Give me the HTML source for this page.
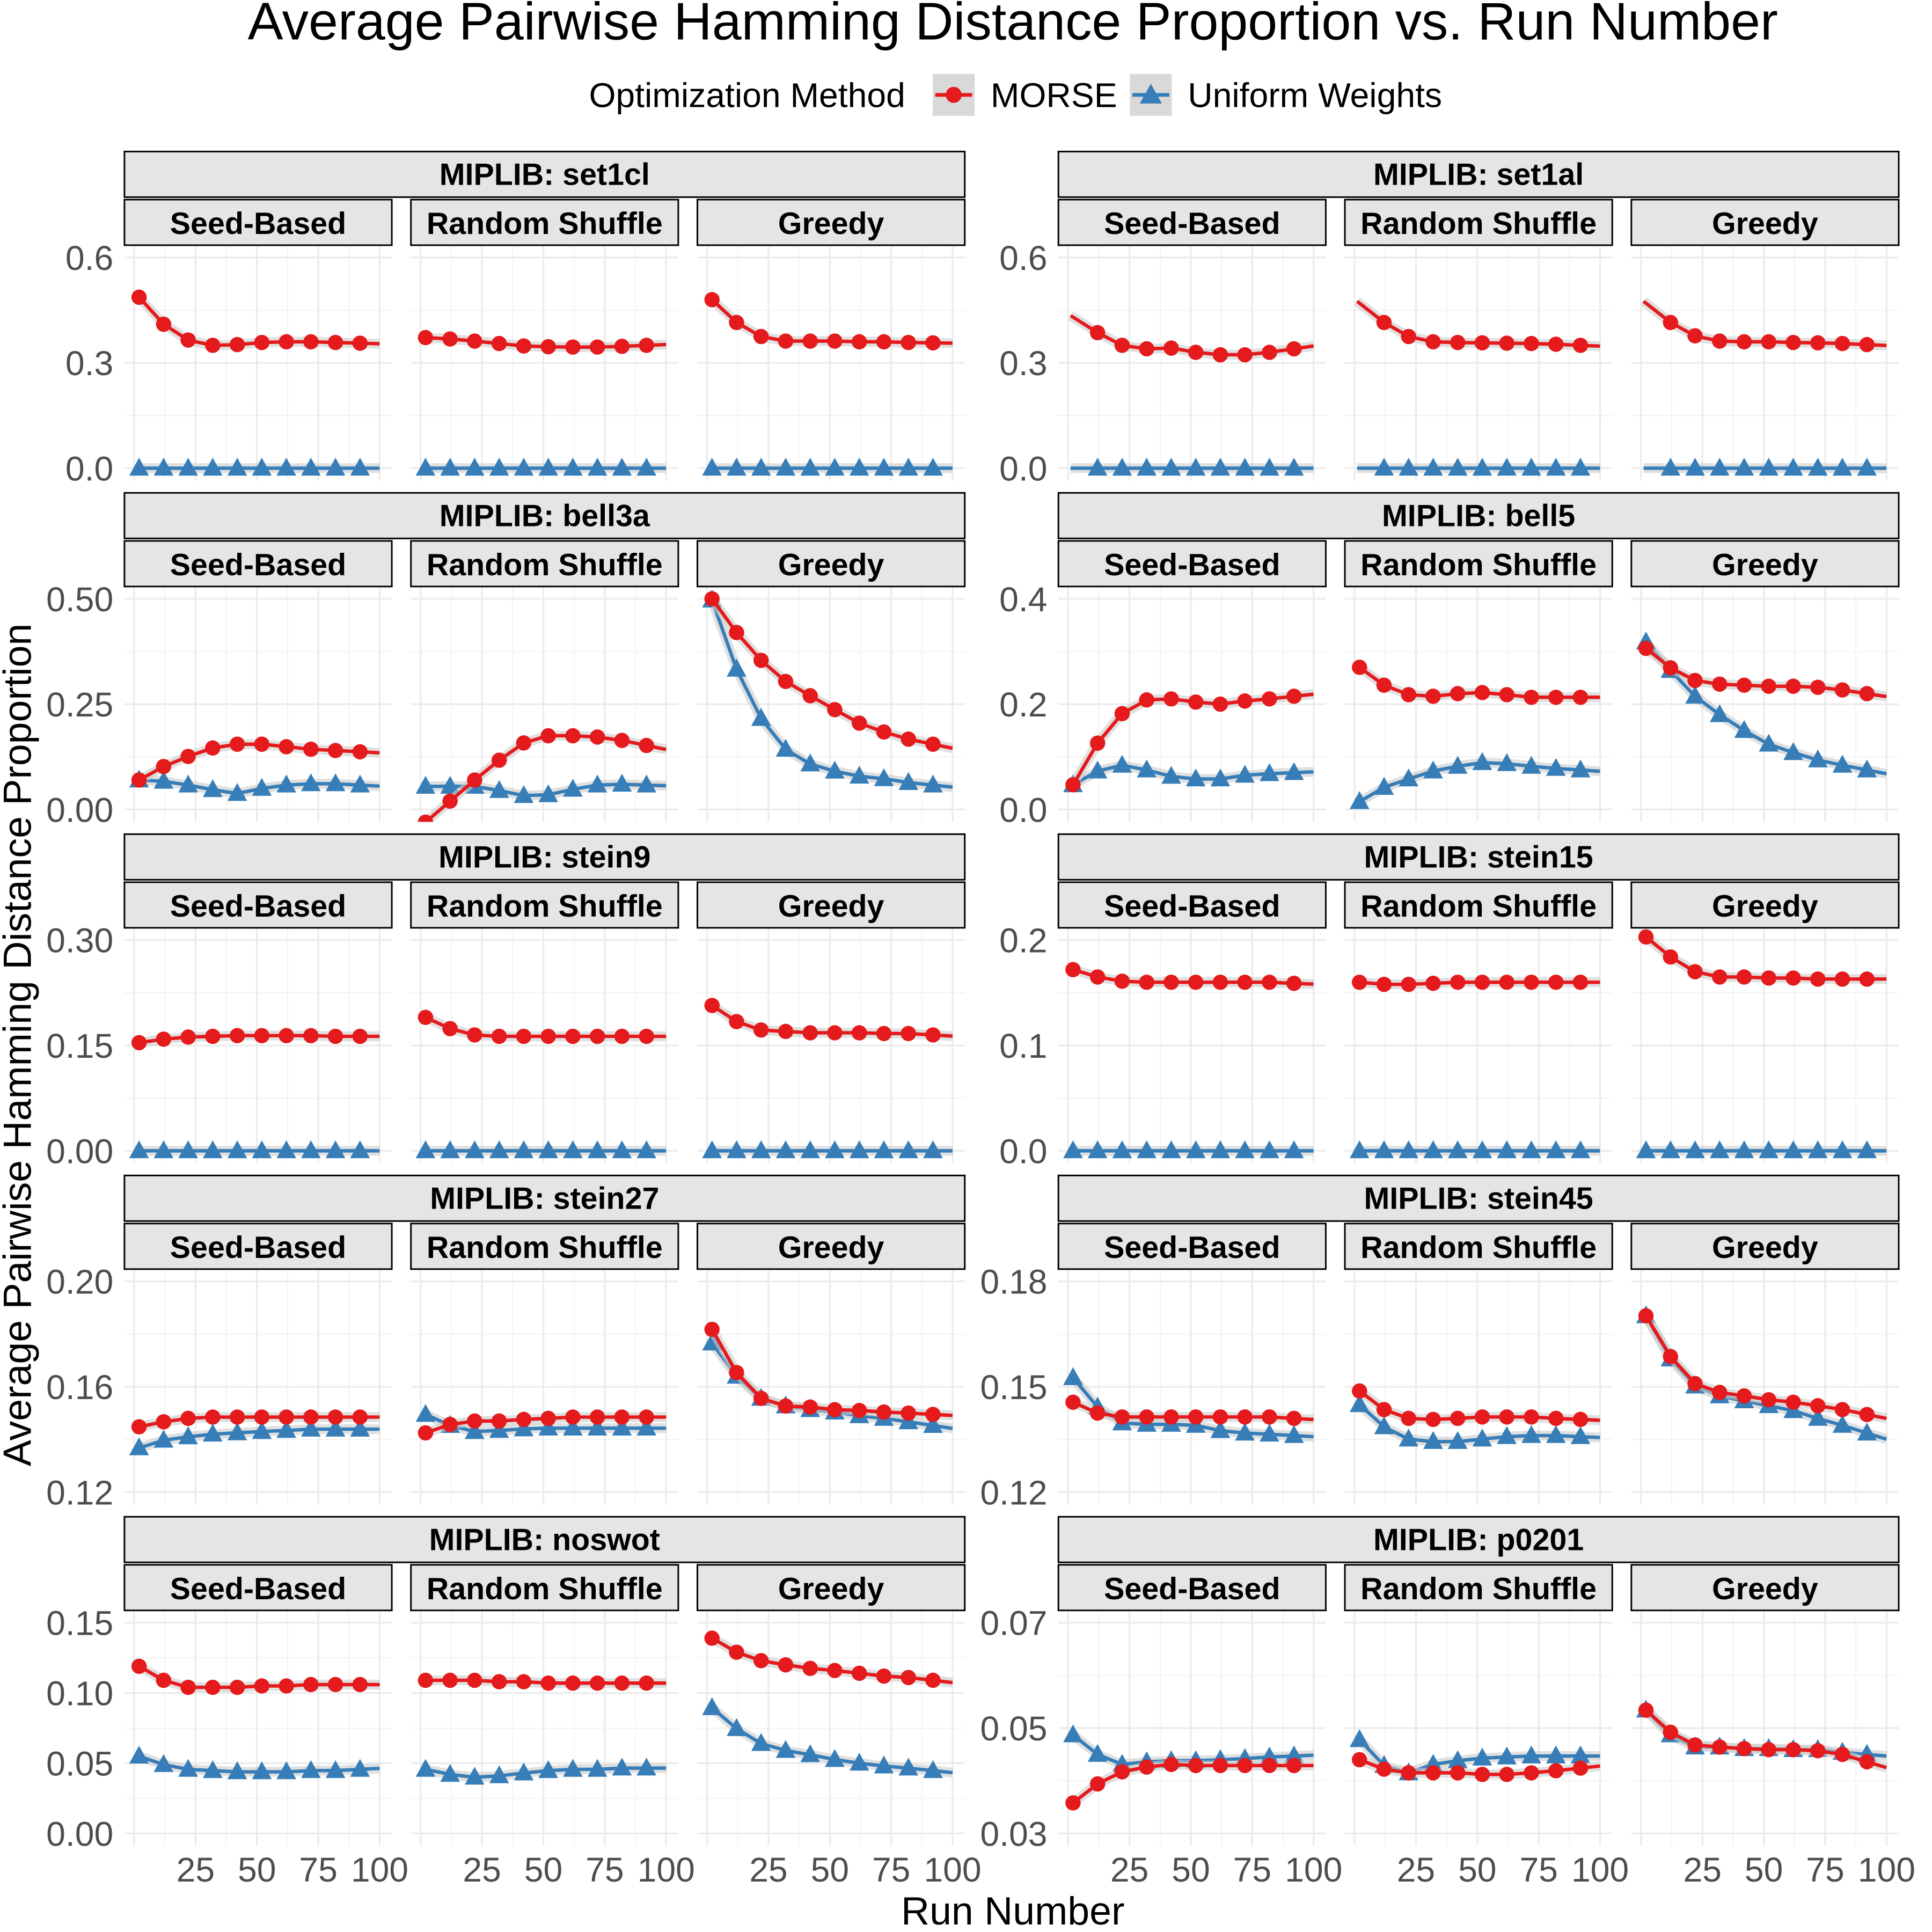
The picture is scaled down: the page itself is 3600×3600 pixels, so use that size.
<!DOCTYPE html>
<html><head><meta charset="utf-8"><style>
html,body{margin:0;padding:0;background:#fff}
svg{display:block}
text{font-family:"Liberation Sans",Arial,sans-serif}
</style></head><body>
<svg id="c" width="3600" height="3600" viewBox="0 0 1568 1568" xmlns="http://www.w3.org/2000/svg">
<text x="822" y="32" font-size="43" text-anchor="middle" fill="#000">Average Pairwise Hamming Distance Proportion vs. Run Number</text>
<g>
<text x="478" y="87" font-size="28" fill="#000">Optimization Method</text>
<g>
<rect x="757" y="60" width="34" height="34" fill="#d9d9d9"/><line x1="759" y1="77" x2="789" y2="77" stroke="#e41a1c" stroke-width="3"/><circle cx="774" cy="77" r="6.5" fill="#e41a1c"/>
<text x="804" y="87" font-size="28">MORSE</text></g>
<g>
<rect x="917" y="60" width="34" height="34" fill="#d9d9d9"/><line x1="919" y1="77" x2="949" y2="77" stroke="#377eb8" stroke-width="3"/><polygon points="934,68 943,84 925,84" fill="#377eb8"/>
<text x="964" y="87" font-size="28">Uniform Weights</text></g>
</g>
<text transform="translate(25,848) rotate(-90)" font-size="32" text-anchor="middle">Average Pairwise Hamming Distance Proportion</text>
<text x="822" y="1562" font-size="32" text-anchor="middle">Run Number</text>
<g id="panels"></g>
</svg>
<script>
// run numbers of the summarised points
const runs = [2,12,22,32,42,52,62,72,82,92];
const methods = ["Seed-Based","Random Shuffle","Greedy"];
const datasets = ["set1cl","set1al","bell3a","bell5","stein9","stein15","stein27","stein45","noswot","p0201"];
// y ticks per dataset
const ticks_set1cl = [0,0.3,0.6];
const ticks_set1al = [0,0.3,0.6];
const ticks_bell3a = [0,0.25,0.5];
const ticks_bell5 = [0,0.2,0.4];
const ticks_stein9 = [0,0.15,0.3];
const ticks_stein15 = [0,0.1,0.2];
const ticks_stein27 = [0.12,0.16,0.2];
const ticks_stein45 = [0.12,0.15,0.18];
const ticks_noswot = [0,0.05,0.1,0.15];
const ticks_p0201 = [0.03,0.05,0.07];
const tickLabels_set1cl = ["0.0","0.3","0.6"];
const tickLabels_set1al = ["0.0","0.3","0.6"];
const tickLabels_bell3a = ["0.00","0.25","0.50"];
const tickLabels_bell5 = ["0.0","0.2","0.4"];
const tickLabels_stein9 = ["0.00","0.15","0.30"];
const tickLabels_stein15 = ["0.0","0.1","0.2"];
const tickLabels_stein27 = ["0.12","0.16","0.20"];
const tickLabels_stein45 = ["0.12","0.15","0.18"];
const tickLabels_noswot = ["0.00","0.05","0.10","0.15"];
const tickLabels_p0201 = ["0.03","0.05","0.07"];
const Z = [0,0,0,0,0,0,0,0,0,0];
// MORSE values [seed, random, greedy]
const morse_set1cl = [[0.487,0.41,0.365,0.35,0.352,0.358,0.36,0.36,0.358,0.356],[0.372,0.368,0.362,0.355,0.348,0.346,0.345,0.345,0.347,0.35],[0.48,0.415,0.375,0.362,0.362,0.362,0.36,0.36,0.358,0.357]];
const uniform_set1cl = [Z,Z,Z];
const morse_set1al = [[0.43,0.386,0.35,0.34,0.342,0.33,0.323,0.323,0.33,0.34],[0.47,0.415,0.375,0.36,0.358,0.357,0.356,0.355,0.353,0.35],[0.47,0.415,0.377,0.362,0.36,0.36,0.358,0.357,0.355,0.352]];
const uniform_set1al = [Z,Z,Z];
const morse_bell3a = [[0.07,0.102,0.126,0.146,0.155,0.155,0.149,0.143,0.14,0.137],[-0.03,0.02,0.07,0.117,0.158,0.175,0.175,0.172,0.164,0.152],[0.5,0.42,0.354,0.304,0.27,0.237,0.205,0.184,0.167,0.155]];
const uniform_bell3a = [[0.07,0.067,0.058,0.047,0.038,0.05,0.058,0.061,0.061,0.058],[0.055,0.055,0.055,0.045,0.033,0.035,0.048,0.058,0.06,0.058],[0.497,0.333,0.216,0.143,0.108,0.091,0.079,0.073,0.064,0.058]];
const morse_bell5 = [[0.047,0.126,0.182,0.208,0.21,0.204,0.2,0.206,0.21,0.215],[0.27,0.236,0.218,0.215,0.22,0.222,0.218,0.213,0.213,0.213],[0.306,0.269,0.245,0.238,0.236,0.234,0.234,0.232,0.227,0.22]];
const uniform_bell5 = [[0.047,0.073,0.084,0.075,0.063,0.058,0.058,0.065,0.068,0.07],[0.015,0.042,0.058,0.073,0.082,0.089,0.087,0.082,0.078,0.075],[0.318,0.264,0.215,0.18,0.15,0.124,0.108,0.094,0.084,0.075]];
const morse_stein9 = [[0.154,0.159,0.162,0.163,0.164,0.164,0.164,0.164,0.163,0.163],[0.19,0.174,0.165,0.163,0.163,0.163,0.163,0.163,0.163,0.163],[0.207,0.184,0.172,0.17,0.168,0.168,0.168,0.167,0.167,0.165]];
const uniform_stein9 = [Z,Z,Z];
const morse_stein15 = [[0.172,0.165,0.161,0.16,0.16,0.16,0.16,0.16,0.16,0.159],[0.16,0.158,0.158,0.159,0.16,0.16,0.16,0.16,0.16,0.16],[0.203,0.184,0.17,0.165,0.165,0.164,0.164,0.163,0.163,0.163]];
const uniform_stein15 = [Z,Z,Z];
const morse_stein27 = [[0.1448,0.1467,0.148,0.1485,0.1485,0.1485,0.1485,0.1485,0.1485,0.1485],[0.1425,0.1457,0.147,0.147,0.1476,0.148,0.1485,0.1485,0.1485,0.1485],[0.1818,0.1654,0.1556,0.1527,0.1523,0.1513,0.151,0.1504,0.15,0.1495]];
const uniform_stein27 = [[0.1368,0.1397,0.141,0.142,0.1425,0.143,0.1434,0.1439,0.1439,0.1439],[0.1495,0.1453,0.143,0.1434,0.144,0.1443,0.1443,0.1443,0.1443,0.1443],[0.1766,0.164,0.1556,0.1527,0.1513,0.1504,0.149,0.148,0.1467,0.1453]];
const morse_stein45 = [[0.1456,0.1425,0.1414,0.1414,0.1414,0.1414,0.1414,0.1414,0.1414,0.141],[0.1488,0.1435,0.141,0.1407,0.141,0.1414,0.1414,0.1414,0.141,0.1407],[0.1702,0.1586,0.1509,0.1484,0.1474,0.1463,0.1456,0.1446,0.1435,0.1421]];
const uniform_stein45 = [[0.1526,0.1442,0.1397,0.1393,0.1393,0.139,0.1375,0.1368,0.1365,0.1361],[0.1449,0.1386,0.1351,0.1344,0.1344,0.1351,0.1358,0.1361,0.1361,0.1358],[0.1702,0.1579,0.1502,0.1474,0.146,0.1446,0.1432,0.141,0.139,0.1368]];
const morse_noswot = [[0.119,0.109,0.104,0.104,0.104,0.105,0.105,0.106,0.106,0.106],[0.109,0.109,0.109,0.108,0.108,0.107,0.107,0.107,0.107,0.107],[0.139,0.129,0.123,0.12,0.1175,0.116,0.114,0.112,0.111,0.109]];
const uniform_noswot = [[0.055,0.049,0.0456,0.0447,0.0439,0.0439,0.0439,0.0447,0.0447,0.0456],[0.0456,0.042,0.04,0.041,0.043,0.0447,0.0456,0.0456,0.0465,0.0465],[0.0895,0.0746,0.064,0.059,0.056,0.0526,0.05,0.048,0.0465,0.0447]];
const morse_p0201 = [[0.0358,0.0394,0.0417,0.0426,0.0431,0.0429,0.0429,0.0429,0.0429,0.0429],[0.044,0.0422,0.0415,0.0415,0.0415,0.0412,0.0412,0.0415,0.0419,0.0424],[0.0534,0.0492,0.0468,0.0464,0.0461,0.0459,0.0459,0.0457,0.045,0.0436]];
const uniform_p0201 = [[0.0487,0.045,0.0431,0.0436,0.0438,0.0438,0.044,0.0442,0.0445,0.0447],[0.0478,0.0429,0.0415,0.0431,0.0438,0.0443,0.0445,0.0447,0.0447,0.0447],[0.0534,0.0487,0.0464,0.0464,0.0461,0.0461,0.0459,0.0459,0.0454,0.045]];

const ALL = {
 set1cl:[ticks_set1cl,tickLabels_set1cl,morse_set1cl,uniform_set1cl],
 set1al:[ticks_set1al,tickLabels_set1al,morse_set1al,uniform_set1al],
 bell3a:[ticks_bell3a,tickLabels_bell3a,morse_bell3a,uniform_bell3a],
 bell5:[ticks_bell5,tickLabels_bell5,morse_bell5,uniform_bell5],
 stein9:[ticks_stein9,tickLabels_stein9,morse_stein9,uniform_stein9],
 stein15:[ticks_stein15,tickLabels_stein15,morse_stein15,uniform_stein15],
 stein27:[ticks_stein27,tickLabels_stein27,morse_stein27,uniform_stein27],
 stein45:[ticks_stein45,tickLabels_stein45,morse_stein45,uniform_stein45],
 noswot:[ticks_noswot,tickLabels_noswot,morse_noswot,uniform_noswot],
 p0201:[ticks_p0201,tickLabels_p0201,morse_p0201,uniform_p0201]
};
const skipFirst = {set1al:true};
const NS="http://www.w3.org/2000/svg";
const root=document.getElementById('panels');
function mk(tag,attrs,parent){const e=document.createElementNS(NS,tag);for(const k in attrs)e.setAttribute(k,attrs[k]);(parent||root).appendChild(e);return e;}
const RED="#e41a1c",BLUE="#377eb8";
let clipId=0;
datasets.forEach((ds,di)=>{
  const col=di%2,row=Math.floor(di/2);
  const R=123+277*row;
  const gx0=col===0?101:859;
  const [ticks,labels,morse,uni]=ALL[ds];
  const g=mk('g',{});
  
  
  const os=mk('rect',{x:gx0,y:R,width:682,height:37,fill:"#e5e5e5",stroke:"#000","stroke-width":1.3},g);
  
  
  const ot=mk('text',{x:gx0+341,y:R+27,"font-size":25,"font-weight":"bold","text-anchor":"middle"},g);
  ot.textContent="MIPLIB: "+ds;
  
  
  const yTop=R+86,yBot=R+257,pTop=R+77,pBot=R+267;
  const t0=ticks[0],t1=ticks[ticks.length-1];
  const ys=v=>yBot-(v-t0)/(t1-t0)*(yBot-yTop);
  ticks.forEach((t,i)=>{
    const tl=mk('text',{x:gx0-9,y:ys(t)+10,"font-size":28,"text-anchor":"end",fill:"#4d4d4d"},g);
    tl.textContent=labels[i];
    
    
  });
  methods.forEach((m,mi)=>{
    const px0=gx0+mi*232.5, pw=217;
    const xs=v=>px0+(v+3.95)/108.9*pw;
    const pg=mk('g',{},g);
    
    
    const is=mk('rect',{x:px0,y:R+39,width:pw,height:37,fill:"#e5e5e5",stroke:"#000","stroke-width":1.3},pg);
    
    
    const it=mk('text',{x:px0+pw/2,y:R+67,"font-size":25,"font-weight":"bold","text-anchor":"middle"},pg);
    it.textContent=m;
    
    
    const minorY=[];for(let i=0;i<ticks.length-1;i++)minorY.push((ticks[i]+ticks[i+1])/2);
    minorY.forEach(v=>mk('line',{x1:px0,x2:px0+pw,y1:ys(v),y2:ys(v),stroke:"#f0f0f0","stroke-width":0.7},pg));
    [12.5,37.5,62.5,87.5].forEach(v=>mk('line',{x1:xs(v),x2:xs(v),y1:pTop,y2:pBot,stroke:"#f0f0f0","stroke-width":0.7},pg));
    ticks.forEach(v=>mk('line',{x1:px0,x2:px0+pw,y1:ys(v),y2:ys(v),stroke:"#ebebeb","stroke-width":1.4},pg));
    [0,25,50,75,100].forEach(v=>mk('line',{x1:xs(v),x2:xs(v),y1:pTop,y2:pBot,stroke:"#ebebeb","stroke-width":1.4},pg));
    clipId++;
    const cp=mk('clipPath',{id:'cp'+clipId},pg);
    mk('rect',{x:px0,y:pTop,width:pw,height:pBot-pTop},cp);
    const dg=mk('g',{"clip-path":"url(#cp"+clipId+")"},pg);
    [[uni[mi],BLUE,'uniform'],[morse[mi],RED,'morse']].forEach(([vals,colr,nm])=>{
      const pts=runs.map((r,i)=>[xs(r),ys(vals[i])]);
      const n=vals.length;
      const slope=(vals[n-1]-vals[n-2])/(runs[n-1]-runs[n-2]);
      const start=[xs(1),ys(vals[0]+(vals[0]-vals[1])/(runs[1]-runs[0])*(runs[0]-1))];
      const end=[xs(100),ys(vals[n-1]+slope*(100-runs[n-1]))];
      const all=[start].concat(pts,[end]);
      const d=all.map((p,i)=>(i?'L':'M')+p[0].toFixed(1)+','+p[1].toFixed(1)).join('');
      const rib=mk('path',{d:d,fill:"none",stroke:"#cccccc","stroke-opacity":0.6,"stroke-width":8,"stroke-linejoin":"round"},dg);
      
      
      const ln=mk('path',{d:d,fill:"none",stroke:colr,"stroke-width":2.8,"stroke-linejoin":"round"},dg);
      
      
      pts.forEach((p,i)=>{
        if(i===0&&skipFirst[ds])return;
        let mark;
        if(nm==='morse') mark=mk('circle',{cx:p[0],cy:p[1],r:6.2,fill:colr},dg);
        else mark=mk('polygon',{points:`${p[0]},${p[1]-8.5} ${p[0]+8},${p[1]+6} ${p[0]-8},${p[1]+6}`,fill:colr},dg);
        
        
      });
    });
    if(row===4){
      [25,50,75,100].forEach(v=>{
        const xl=mk('text',{x:xs(v),y:1527,"font-size":28,"text-anchor":"middle",fill:"#4d4d4d"},pg);
        xl.textContent=String(v);
        
        
      });
    }
  });
});
</script>
</body></html>
